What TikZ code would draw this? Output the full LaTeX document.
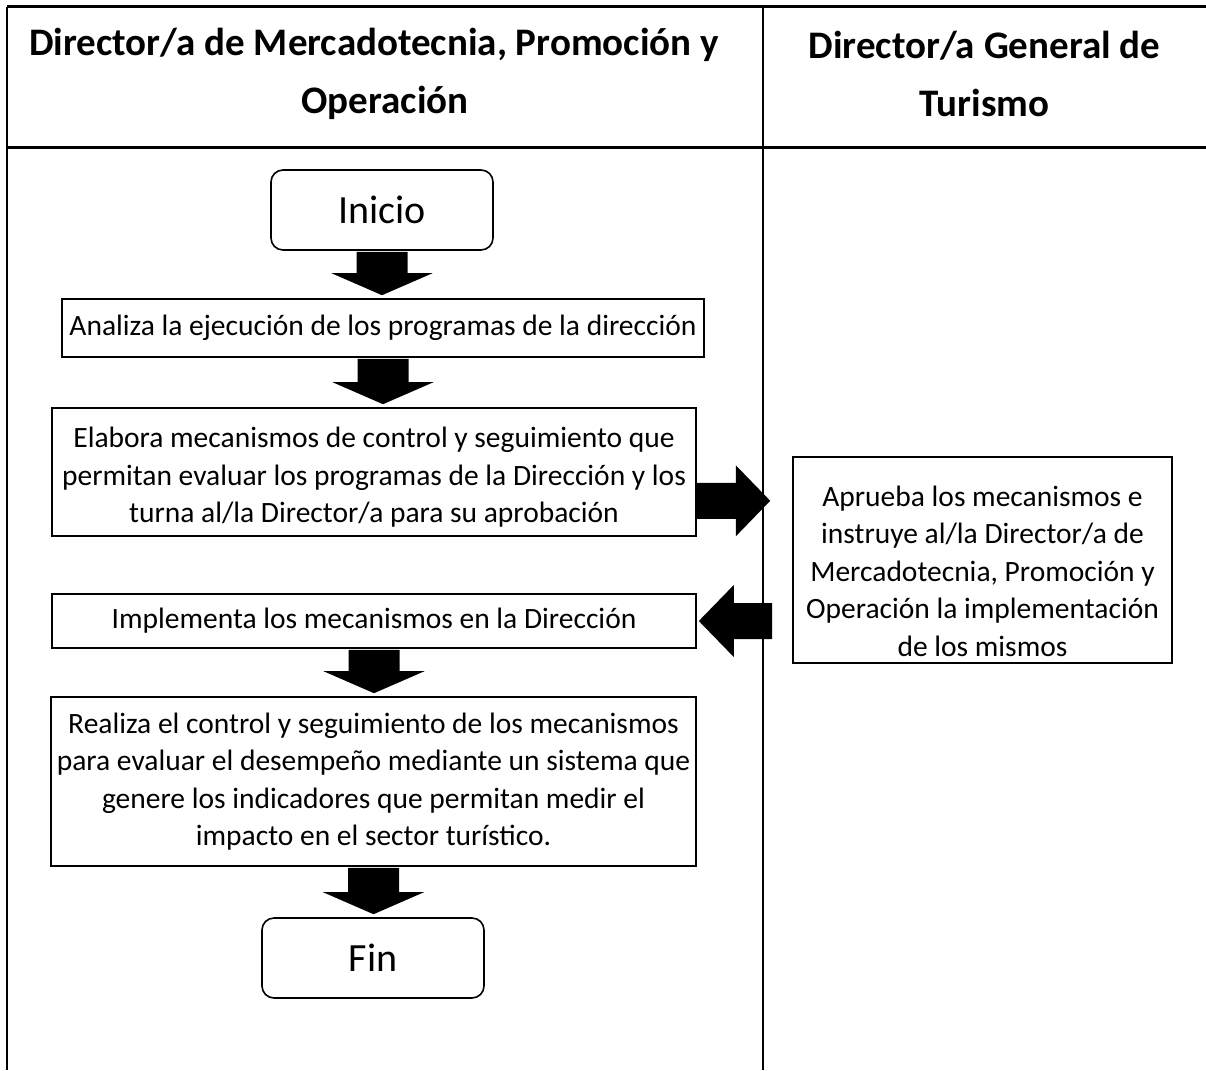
\documentclass[tikz,border=0pt]{standalone}
\usepackage{fontspec}
\setmainfont{Carlito}
\usetikzlibrary{calc}
\newcommand{\dnarrow}[2]{%
  \fill[arrowfill] let \p1=(#1.south), \p2=(#2.north) in
    (\x1-25.5,\y1-1) -- (\x1+25.5,\y1-1) -- (\x1+25.5,\y2+25) -- (\x1+50.5,\y2+25)
    -- (\x1,\y2+3) -- (\x1-50.5,\y2+25) -- (\x1-25.5,\y2+25) -- cycle;}
\begin{document}
\begin{tikzpicture}[x=1pt,y=-1pt,
  procbox/.style={draw, line width=1.6pt, align=center, inner sep=0pt,
    font=\fontsize{29.5}{37.5}\selectfont},
  termbox/.style={draw, line width=1.6pt, rounded corners=12pt, inner sep=0pt,
    minimum width=222pt, minimum height=80pt, font=\fontsize{40}{44}\selectfont},
  hdr/.style={align=center, inner sep=0pt, font=\bfseries\fontsize{39}{58}\selectfont},
  arrowfill/.style={fill=black},
  frame/.style={line width=1.6pt},
  thickframe/.style={line width=3pt}]
\useasboundingbox (0,0) rectangle (1206,1070);

% table frame
\coordinate (tl) at (7,7);
\coordinate (tr) at (1206,7);
\coordinate (hl) at (7,147);
\coordinate (hr) at (1206,147);
\coordinate (bl) at (7,1070);
\coordinate (dt) at (763,7);
\coordinate (db) at (763,1070);
\draw[frame] (tl) -- (bl);
\draw[frame] (dt) -- (db);
\draw[thickframe] (tl) -- (tr);
\draw[thickframe] (hl) -- (hr);

% headers
\node[hdr] (h1) at (385,74) {Director/a de Mercadotecnia, Promoción y\hspace*{22pt}\\Operación};
\node[hdr] (h2) at (984.5,74) {Director/a General de\\Turismo};

% flow
\node[termbox] (ini) at (382,210) {Inicio};
\node[procbox, minimum width=642pt, minimum height=58pt] (ana) at (383,328)
  {Analiza la ejecución de los programas de la dirección};
\node[procbox, minimum width=644pt, minimum height=128pt] (elab) at (374,472)
  {\rule{0pt}{31pt}Elabora mecanismos de control y seguimiento que\\permitan evaluar los programas de la Dirección y los\\turna al/la Director/a para su aprobación};
\node[procbox, minimum width=379pt, minimum height=206pt] (apr) at (982.5,560)
  {\rule{0pt}{43pt}Aprueba los mecanismos e\\instruye al/la Director/a de\\Mercadotecnia, Promoción y\\Operación la implementación\\de los mismos};
\node[procbox, minimum width=644pt, minimum height=54pt] (impl) at (374,621)
  {Implementa los mecanismos en la Dirección};
\node[procbox, minimum width=645pt, minimum height=169pt] (real) at (373.5,781.5)
  {Realiza el control y seguimiento de los mecanismos\\para evaluar el desempeño mediante un sistema que\\genere los indicadores que permitan medir el\\impacto en el sector turístico.};
\node[termbox] (fin) at (373,958) {Fin};

% block arrows
\dnarrow{ini}{ana}
\dnarrow{ana}{elab}
\dnarrow{impl}{real}
\dnarrow{real}{fin}

\fill[arrowfill] let \p1=(elab.east), \p2=(apr.west), \p3=(elab.south) in
  (\x1,\y3+54) -- (\x1+39,\y3+54) -- (\x1+39,\y3+71.5) -- (\x2-22,\y3+36)
  -- (\x1+39,\y3+0.5) -- (\x1+39,\y3+18) -- (\x1,\y3+18) -- cycle;

\fill[arrowfill] let \p1=(apr.west), \p2=(impl.east) in
  (\x2+2,\y2) -- (\x2+37,\y2+36) -- (\x2+37,\y2+18) -- (\x1-20,\y2+18)
  -- (\x1-20,\y2-18) -- (\x2+37,\y2-18) -- (\x2+37,\y2-36) -- cycle;
\end{tikzpicture}
\end{document}
